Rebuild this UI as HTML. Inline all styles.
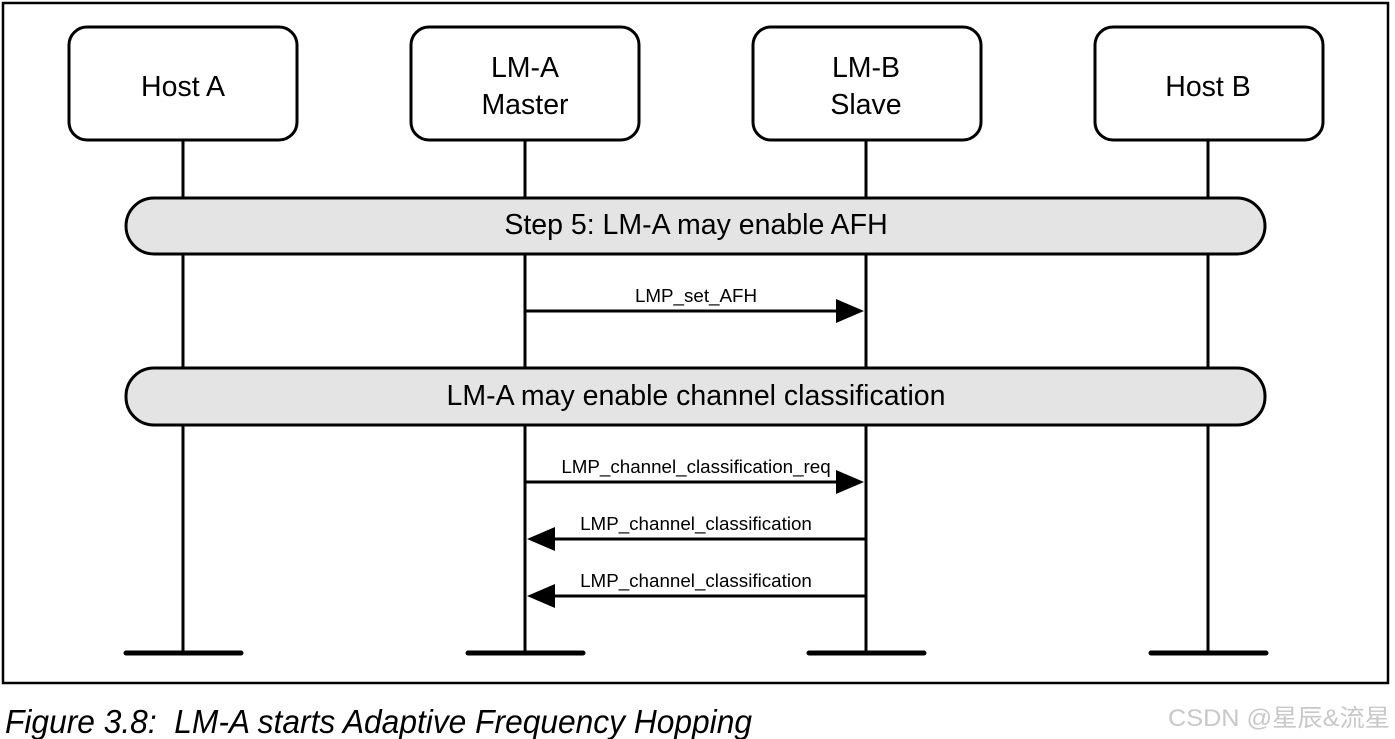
<!DOCTYPE html>
<html><head><meta charset="utf-8"><style>
html,body{margin:0;padding:0;background:#fff;}
svg{display:block;}
text{font-family:"Liberation Sans",Arial,sans-serif;fill:#000;}
</style></head><body>
<svg width="1395" height="739" viewBox="0 0 1395 739" xmlns="http://www.w3.org/2000/svg">
<rect x="3" y="3" width="1385" height="680" fill="#fff" stroke="#000" stroke-width="2.5"/>
<g stroke="#000" stroke-width="3">
<line x1="183" y1="140" x2="183" y2="653"/>
<line x1="525" y1="140" x2="525" y2="653"/>
<line x1="866" y1="140" x2="866" y2="653"/>
<line x1="1208" y1="140" x2="1208" y2="653"/>
</g>
<g fill="#fff" stroke="#000" stroke-width="3">
<rect x="69" y="27" width="228" height="113" rx="18"/>
<rect x="411" y="27" width="228" height="113" rx="18"/>
<rect x="753" y="27" width="228" height="113" rx="18"/>
<rect x="1095" y="27" width="228" height="113" rx="18"/>
</g>
<g font-size="28.5" text-anchor="middle">
<text x="183" y="96">Host A</text>
<text x="525" y="77">LM-A</text><text x="525" y="114">Master</text>
<text x="866" y="77">LM-B</text><text x="866" y="114">Slave</text>
<text x="1208" y="96">Host B</text>
</g>
<g fill="#e4e4e4" stroke="#000" stroke-width="3">
<rect x="126" y="198" width="1139" height="56" rx="28"/>
<rect x="126" y="368" width="1139" height="57" rx="28"/>
</g>
<g font-size="28.5" text-anchor="middle">
<text x="696" y="234">Step 5: LM-A may enable AFH</text>
<text x="696" y="405">LM-A may enable channel classification</text>
</g>
<g stroke="#000" stroke-width="3">
<line x1="525" y1="311" x2="840" y2="311"/>
<line x1="525" y1="482" x2="840" y2="482"/>
<line x1="552" y1="539" x2="866" y2="539"/>
<line x1="552" y1="596" x2="866" y2="596"/>
</g>
<g fill="#000">
<polygon points="864,311 836,299 836,323"/>
<polygon points="864,482 836,470 836,494"/>
<polygon points="527,539 555,527 555,551"/>
<polygon points="527,596 555,584 555,608"/>
</g>
<g font-size="18.8" text-anchor="middle">
<text x="696" y="302">LMP_set_AFH</text>
<text x="696" y="473">LMP_channel_classification_req</text>
<text x="696" y="530">LMP_channel_classification</text>
<text x="696" y="587">LMP_channel_classification</text>
</g>
<g stroke="#000" stroke-width="5" stroke-linecap="round">
<line x1="126" y1="653" x2="241" y2="653"/>
<line x1="468" y1="653" x2="583" y2="653"/>
<line x1="809" y1="653" x2="924" y2="653"/>
<line x1="1151" y1="653" x2="1266" y2="653"/>
</g>
<text x="5" y="733" font-size="33" font-style="italic" textLength="747" lengthAdjust="spacingAndGlyphs" xml:space="preserve">Figure 3.8:  LM-A starts Adaptive Frequency Hopping</text>
<text x="1168" y="726" font-size="24" textLength="222" lengthAdjust="spacingAndGlyphs" style="fill:#c8c8c8;font-family:'Liberation Sans','Noto Sans CJK SC',sans-serif">CSDN @星辰&amp;流星</text>
</svg>
</body></html>
